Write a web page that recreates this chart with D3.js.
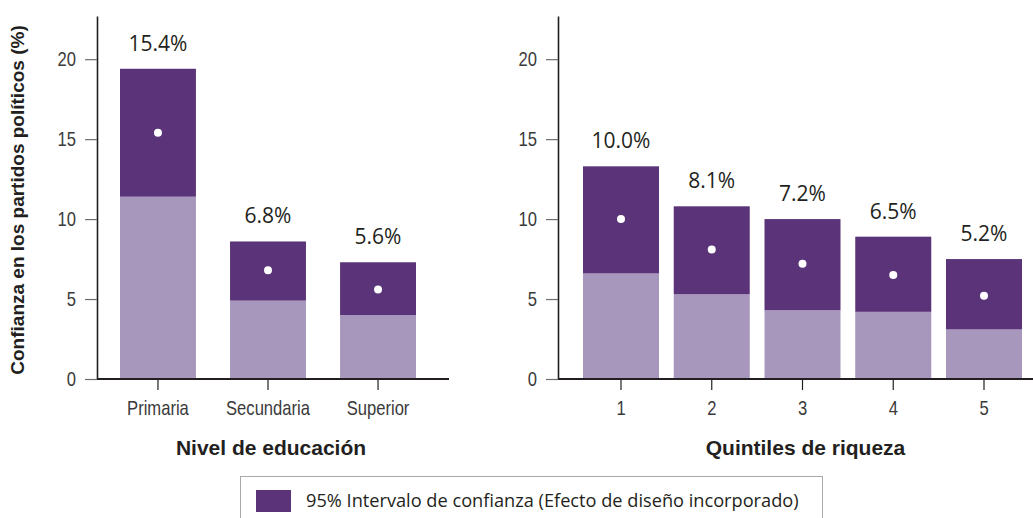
<!DOCTYPE html>
<html>
<head>
<meta charset="utf-8">
<script src="https://cdn.jsdelivr.net/npm/d3@7"></script>
<style>
  body { margin: 0; background: #fff; }
  svg { display: block; }
</style>
</head>
<body>
<div id="chart"></div>
<script>
// Nivel de educación
var eduCategories = ["Primaria", "Secundaria", "Superior"];
var eduLower = [11.4, 4.9, 4.0];
var eduUpper = [19.4, 8.6, 7.3];
var eduPoint = [15.4, 6.8, 5.6];

// Quintiles de riqueza
var wealthCategories = ["1", "2", "3", "4", "5"];
var wealthLower = [6.6, 5.3, 4.3, 4.2, 3.1];
var wealthUpper = [13.3, 10.8, 10.0, 8.9, 7.5];
var wealthPoint = [10.0, 8.1, 7.2, 6.5, 5.2];

var yTicks = [0, 5, 10, 15, 20];

var width = 1033, height = 518;
var darkColor = "#5a3378";
var lightColor = "#a797bd";
var axisColor = "#231f20";
var tickColor = "#6d6e71";
var narrow = 0.83; // imitación de fuente condensada

var svg = d3.select("#chart").append("svg")
    .attr("width", width)
    .attr("height", height);

var y = d3.scaleLinear()
    .domain([0, 22.7])
    .range([379, 16]);

drawPanel({
    axisX: 97, lineEnd: 449, barStart: 120, barEnd: 416, padding: 0.31,
    categories: eduCategories, lower: eduLower, upper: eduUpper, point: eduPoint,
    title: "Nivel de educación"
});
drawPanel({
    axisX: 558, lineEnd: 1033, barStart: 583, barEnd: 1022, padding: 0.1625,
    categories: wealthCategories, lower: wealthLower, upper: wealthUpper, point: wealthPoint,
    title: "Quintiles de riqueza"
});

function drawPanel(p) {
    var g = svg.append("g");
    var x = d3.scaleBand()
        .domain(p.categories)
        .range([p.barStart, p.barEnd])
        .paddingInner(p.padding)
        .paddingOuter(0);

    var rows = p.categories.map(function (c, i) {
        return { cat: c, lo: p.lower[i], hi: p.upper[i], pt: p.point[i] };
    });

    // parte baja (hasta el límite inferior)
    g.selectAll(".low").data(rows).enter().append("rect")
        .attr("x", function (d) { return x(d.cat); })
        .attr("width", x.bandwidth())
        .attr("y", function (d) { return y(d.lo); })
        .attr("height", function (d) { return y(0) - y(d.lo); })
        .attr("fill", lightColor);

    // intervalo de confianza
    g.selectAll(".ci").data(rows).enter().append("rect")
        .attr("x", function (d) { return x(d.cat); })
        .attr("width", x.bandwidth())
        .attr("y", function (d) { return y(d.hi); })
        .attr("height", function (d) { return y(d.lo) - y(d.hi); })
        .attr("fill", darkColor);

    g.selectAll(".pt").data(rows).enter().append("circle")
        .attr("cx", function (d) { return x(d.cat) + x.bandwidth() / 2; })
        .attr("cy", function (d) { return y(d.pt); })
        .attr("r", 4)
        .attr("fill", "#fff");

    g.selectAll(".lbl").data(rows).enter().append("text")
        .attr("x", function (d) { return x(d.cat) + x.bandwidth() / 2; })
        .attr("y", function (d) { return y(d.hi) - 18; })
        .attr("text-anchor", "middle")
        .attr("font-family", "'Open Sans', sans-serif")
        .attr("font-size", 21)
        .attr("fill", axisColor)
        .text(function (d) { return d.pt.toFixed(1) + "%"; });

    // eje Y
    var yAxis = g.append("g")
        .attr("transform", "translate(" + p.axisX + ",0)")
        .call(d3.axisLeft(y).tickValues(yTicks).tickSize(12).tickSizeOuter(0).tickPadding(13.3));
    yAxis.select(".domain").attr("stroke", axisColor).attr("stroke-width", 1.6);
    yAxis.selectAll(".tick line").attr("stroke", tickColor).attr("stroke-width", 1.2);
    yAxis.selectAll(".tick text")
        .attr("transform", "scale(" + narrow + ",1)")
        .attr("font-family", "'Liberation Sans', Arial, sans-serif")
        .attr("font-size", 20)
        .attr("fill", "#3a3a3a");

    // eje X
    var xAxis = g.append("g")
        .attr("transform", "translate(0," + y(0) + ")")
        .call(d3.axisBottom(x).tickSize(11).tickSizeOuter(0).tickPadding(11));
    xAxis.select(".domain").remove();
    xAxis.selectAll(".tick line").attr("stroke", axisColor).attr("stroke-width", 1.2);
    xAxis.selectAll(".tick text")
        .attr("transform", "scale(" + narrow + ",1)")
        .attr("font-family", "'Liberation Sans', Arial, sans-serif")
        .attr("font-size", 20)
        .attr("fill", "#3a3a3a");
    g.append("line")
        .attr("x1", p.axisX).attr("x2", p.lineEnd)
        .attr("y1", y(0)).attr("y2", y(0))
        .attr("stroke", axisColor).attr("stroke-width", 2);

    g.append("text")
        .attr("x", (p.barStart + p.barEnd) / 2 + 3)
        .attr("y", 455)
        .attr("text-anchor", "middle")
        .attr("font-family", "'Liberation Sans', Arial, sans-serif")
        .attr("font-weight", "bold")
        .attr("font-size", 21)
        .attr("fill", axisColor)
        .text(p.title);
}

svg.append("text")
    .attr("transform", "translate(24,200) rotate(-90)")
    .attr("text-anchor", "middle")
    .attr("font-family", "'Liberation Sans', Arial, sans-serif")
    .attr("font-weight", "bold")
    .attr("font-size", 19)
    .attr("fill", axisColor)
    .text("Confianza en los partidos políticos (%)");

// leyenda
var legend = svg.append("g");
legend.append("rect")
    .attr("x", 240.5).attr("y", 476.5)
    .attr("width", 582).attr("height", 60)
    .attr("fill", "none")
    .attr("stroke", "#a7a9ac")
    .attr("stroke-width", 1);
legend.append("rect")
    .attr("x", 256).attr("y", 490)
    .attr("width", 35).attr("height", 22)
    .attr("fill", darkColor);
legend.append("text")
    .attr("x", 306).attr("y", 507)
    .attr("font-family", "'Open Sans', sans-serif")
    .attr("font-size", 18.2)
    .attr("fill", axisColor)
    .text("95% Intervalo de confianza (Efecto de diseño incorporado)");
</script>
</body>
</html>
